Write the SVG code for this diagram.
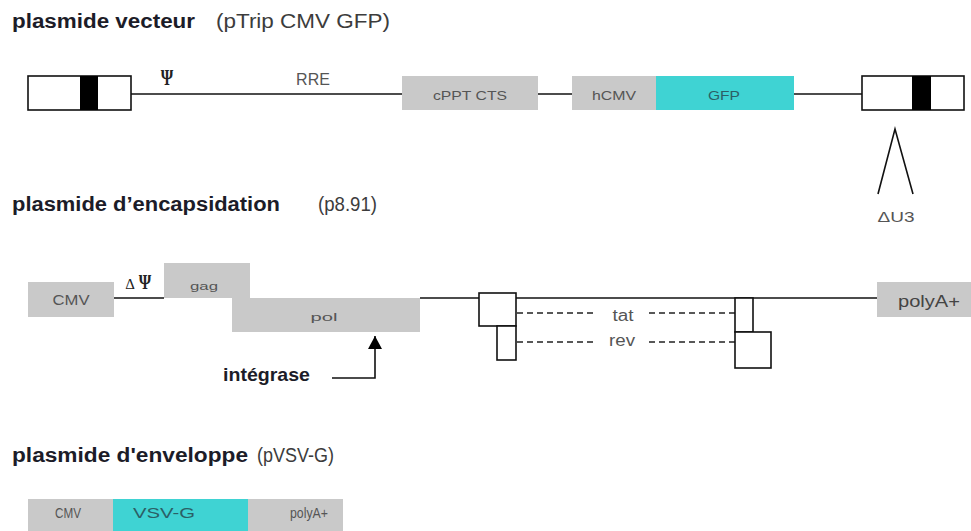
<svg xmlns="http://www.w3.org/2000/svg" width="971" height="531" viewBox="0 0 971 531">
<defs>
<style>
.title{font-family:"Liberation Sans",Arial,sans-serif;font-weight:bold;font-size:20px;fill:#1c1c28}
.sub{font-family:"Liberation Sans",Arial,sans-serif;font-size:20px;fill:#3c3c3c}
.gray{fill:#c9c9c9}
.cyan{fill:#3fd3d3}
.lbl{font-family:"Liberation Sans",Arial,sans-serif;fill:#555;text-anchor:middle}
.lblc{font-family:"Liberation Sans",Arial,sans-serif;fill:#2b5f66;text-anchor:middle}
.ltr{fill:#fff;stroke:#111;stroke-width:1.6}
.bar{fill:#000}
.ln{stroke:#111;stroke-width:1.6;fill:none}
.dash{stroke:#222;stroke-width:1.4;stroke-dasharray:6 4;fill:none}
.sym{font-family:"Liberation Serif","DejaVu Serif",serif;fill:#222}
</style>
<marker id="arr" markerUnits="userSpaceOnUse" markerWidth="16" markerHeight="14" refX="13" refY="7" orient="auto">
<path d="M0,0 L13,7 L0,14 Z" fill="#000"/>
</marker>
</defs>
<rect width="971" height="531" fill="#fff"/>

<!-- titles -->
<g id="title1">
<text class="title" x="12" y="28" textLength="183" lengthAdjust="spacingAndGlyphs">plasmide vecteur</text>
<text class="sub" x="216" y="28" textLength="174" lengthAdjust="spacingAndGlyphs">(pTrip CMV GFP)</text>
</g>
<g id="title2">
<text class="title" x="12" y="211" textLength="268" lengthAdjust="spacingAndGlyphs">plasmide d’encapsidation</text>
<text class="sub" x="318" y="211" textLength="59" lengthAdjust="spacingAndGlyphs">(p8.91)</text>
</g>
<g id="title3">
<text class="title" x="12" y="462" textLength="236" lengthAdjust="spacingAndGlyphs">plasmide d'enveloppe</text>
<text class="sub" x="257" y="462" textLength="77" lengthAdjust="spacingAndGlyphs">(pVSV-G)</text>
</g>

<!-- connectors -->
<g id="connectors">
<line class="ln" x1="131" y1="94" x2="402" y2="94"/>
<line class="ln" x1="538" y1="94" x2="572" y2="94"/>
<line class="ln" x1="794" y1="94" x2="862" y2="94"/>
<polyline class="ln" points="878,194 895,129 913,194" stroke="#333"/>
<line class="ln" x1="114" y1="298" x2="164" y2="298"/>
<line class="ln" x1="420" y1="298" x2="877" y2="298"/>
<line class="dash" x1="517" y1="313" x2="597" y2="313"/>
<line class="dash" x1="649" y1="313" x2="735" y2="313"/>
<line class="dash" x1="517" y1="342" x2="597" y2="342"/>
<line class="dash" x1="649" y1="342" x2="735" y2="342"/>
<path class="ln" d="M332,378 H375 V336" marker-end="url(#arr)"/>
</g>

<!-- section 1 -->
<g id="ltr-left">
<rect class="ltr" x="28" y="76" width="103" height="34"/>
<rect class="bar" x="80" y="76" width="18" height="34"/>
</g>
<g id="psi">
<text class="sym" x="0" y="0" font-size="16" font-weight="bold" text-anchor="middle" transform="translate(167,85) scale(1,1.45)">Ψ</text>
</g>
<g id="rre">
<text class="lbl" x="313" y="85" font-size="16">RRE</text>
</g>
<g id="cppt">
<rect class="gray" x="402" y="76" width="136" height="34"/>
<text class="lbl" x="470" y="100" font-size="12" textLength="74" lengthAdjust="spacingAndGlyphs">cPPT CTS</text>
</g>
<g id="hcmv">
<rect class="gray" x="572" y="76" width="84" height="34"/>
<text class="lbl" x="614" y="100" font-size="13" textLength="44" lengthAdjust="spacingAndGlyphs">hCMV</text>
</g>
<g id="gfp">
<rect class="cyan" x="656" y="76" width="138" height="34"/>
<text class="lblc" x="724" y="100" font-size="13" textLength="32" lengthAdjust="spacingAndGlyphs">GFP</text>
</g>
<g id="ltr-right">
<rect class="ltr" x="862" y="76" width="102" height="34"/>
<rect class="bar" x="912" y="76" width="19" height="34"/>
</g>
<g id="du3">
<text class="lbl" x="896" y="222" font-size="15" textLength="37" lengthAdjust="spacingAndGlyphs">ΔU3</text>
</g>

<!-- section 2 -->
<g id="cmv2">
<rect class="gray" x="28" y="282" width="86" height="35"/>
<text class="lbl" x="71" y="305" font-size="14" textLength="37" lengthAdjust="spacingAndGlyphs">CMV</text>
</g>
<g id="dpsi">
<text class="sym" x="0" y="0" font-size="15" text-anchor="middle" transform="translate(130,289)">Δ</text>
<text class="sym" x="0" y="0" font-size="16" font-weight="bold" text-anchor="middle" transform="translate(145,289) scale(1,1.35)">Ψ</text>
</g>
<g id="gag">
<rect class="gray" x="164" y="263" width="86" height="35"/>
<text class="lbl" x="204" y="290" font-size="11" textLength="28" lengthAdjust="spacingAndGlyphs">gag</text>
</g>
<g id="pol">
<rect class="gray" x="232" y="298" width="188" height="34"/>
<text class="lbl" x="324" y="321" font-size="11" textLength="27" lengthAdjust="spacingAndGlyphs">pol</text>
</g>
<g id="integrase">
<text class="title" x="223" y="381" style="font-size:19px" textLength="87" lengthAdjust="spacingAndGlyphs">intégrase</text>
</g>
<g id="exon-left">
<rect class="ltr" x="479" y="293" width="37" height="33"/>
<rect class="ltr" x="497" y="326" width="19" height="34"/>
</g>
<g id="tat">
<text class="lbl" x="623" y="321" font-size="16" textLength="21" lengthAdjust="spacingAndGlyphs">tat</text>
</g>
<g id="rev">
<text class="lbl" x="622" y="346" font-size="16" textLength="26" lengthAdjust="spacingAndGlyphs">rev</text>
</g>
<g id="exon-right">
<rect class="ltr" x="735" y="298" width="18" height="34"/>
<rect class="ltr" x="735" y="332" width="36" height="36"/>
</g>
<g id="polya2">
<rect class="gray" x="877" y="282" width="94" height="35"/>
<text class="lbl" x="929" y="307" font-size="17" textLength="62" lengthAdjust="spacingAndGlyphs" style="fill:#444">polyA+</text>
</g>

<!-- section 3 -->
<g id="cmv3">
<rect class="gray" x="28" y="499" width="85" height="32"/>
<text class="lbl" x="68" y="518" font-size="15" textLength="26" lengthAdjust="spacingAndGlyphs">CMV</text>
</g>
<g id="vsvg">
<rect class="cyan" x="113" y="499" width="135" height="32"/>
<text class="lblc" x="164" y="518" font-size="15" textLength="62" lengthAdjust="spacingAndGlyphs">VSV-G</text>
</g>
<g id="polya3">
<rect class="gray" x="248" y="499" width="95" height="32"/>
<text class="lbl" x="309" y="518" font-size="15" textLength="38" lengthAdjust="spacingAndGlyphs">polyA+</text>
</g>
</svg>
